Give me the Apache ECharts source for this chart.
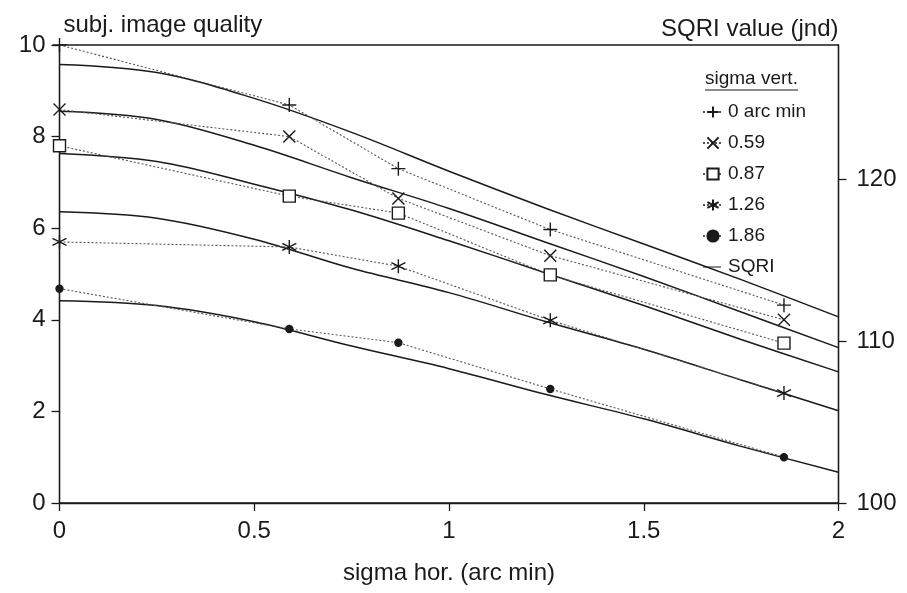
<!DOCTYPE html>
<html>
<head>
<meta charset="utf-8">
<script src="https://cdn.jsdelivr.net/npm/echarts@6/dist/echarts.min.js"></script>
<style>
  html, body { margin: 0; padding: 0; background: #fff; }
  #chart { width: 907px; height: 593px; }
</style>
</head>
<body>
<div id="chart"></div>
<script>
// measured subjective quality (left axis), one array per sigma vert.
const sigmaHor = [0, 0.59, 0.87, 1.26, 1.86];
const quality0 = [10.0, 8.69, 7.30, 5.97, 4.32];
const quality059 = [8.59, 8.00, 6.65, 5.40, 4.00];
const quality087 = [7.80, 6.70, 6.33, 4.98, 3.49];
const quality126 = [5.70, 5.59, 5.17, 3.99, 2.40];
const quality186 = [4.68, 3.80, 3.50, 2.49, 1.00];

// SQRI model curves (right axis, jnd)
const sqriX = [0, 0.25, 0.5, 0.75, 1, 1.25, 1.5, 1.75, 2];
const sqri0 = [127.1, 126.6, 125.0, 122.9, 120.5, 118.2, 116.0, 113.8, 111.5];
const sqri059 = [124.2, 123.7, 122.1, 120.1, 118.2, 116.1, 114.0, 111.8, 109.6];
const sqri087 = [121.6, 121.1, 119.7, 118.1, 116.2, 114.2, 112.2, 110.1, 108.1];
const sqri126 = [118.0, 117.6, 116.3, 114.5, 113.0, 111.2, 109.5, 107.6, 105.7];
const sqri186 = [112.5, 112.2, 111.2, 109.7, 108.3, 106.7, 105.2, 103.5, 101.9];

const legendNames = ['0 arc min', '0.59', '0.87', '1.26', '1.86', 'SQRI'];

const ink = '#1a1a1a';
const font = "'Liberation Sans', Arial, sans-serif";

const symPlus = 'path://M10 0 L10 20 M0 10 L20 10';
const symCross = 'path://M0 0 L20 20 M0 20 L20 0';
const symStar = 'path://M10 0 L10 20 M1.34 5 L18.66 15 M1.34 15 L18.66 5';
// thin bar in the middle of a 20x14 box, for the SQRI legend entry
const legendDash = 'path://M0 0 L0.01 0 L0.01 0.01 Z M0 6.4 L18 6.4 L18 7.6 L0 7.6 Z M20 14 L19.99 14 L19.99 13.99 Z';

function pairs(xs, ys) {
  return xs.map((x, i) => [x, ys[i]]);
}

function measured(name, values, symbol, size, fill) {
  return {
    name: name,
    type: 'line',
    data: pairs(sigmaHor, values),
    symbol: symbol,
    symbolSize: size,
    z: 3,
    lineStyle: { color: '#555', width: 1.1, type: [2, 2] },
    itemStyle: { color: fill, borderColor: ink, borderWidth: 1.4 }
  };
}

function sqriCurve(values) {
  return {
    name: 'SQRI',
    type: 'line',
    yAxisIndex: 1,
    data: pairs(sqriX, values),
    smooth: 0.35,
    symbol: 'none',
    z: 2,
    lineStyle: { color: ink, width: 1.5 },
    itemStyle: { color: ink }
  };
}

const chart = echarts.init(document.getElementById('chart'));

chart.setOption({
  animation: false,
  backgroundColor: '#fff',
  textStyle: { fontFamily: font },
  grid: {
    left: 59.5, right: 68.5, top: 45, bottom: 90,
    show: true, borderColor: ink, borderWidth: 1.3
  },
  legend: {
    data: legendNames.map(n => (n === 'SQRI' ? { name: n, icon: legendDash } : n)),
    orient: 'vertical',
    left: 697,
    top: 97,
    itemWidth: 20,
    itemHeight: 14,
    itemGap: 11,
    selectedMode: false,
    textStyle: { fontFamily: font, fontSize: 19, color: ink, lineHeight: 20 }
  },
  graphic: [
    {
      type: 'text', left: 705, top: 69,
      style: { text: 'sigma vert.', font: "19px 'Liberation Sans', Arial, sans-serif", fill: ink }
    },
    {
      type: 'line', shape: { x1: 705, y1: 90, x2: 798, y2: 90 },
      style: { stroke: ink, lineWidth: 1.2 }
    }
  ],
  xAxis: {
    type: 'value',
    min: 0, max: 2, interval: 0.5,
    name: 'sigma hor. (arc min)',
    nameLocation: 'middle',
    nameGap: 58,
    nameTextStyle: { fontSize: 24, color: ink, fontFamily: font },
    axisLine: { lineStyle: { color: ink, width: 1.3 } },
    axisTick: { length: 8, lineStyle: { color: ink, width: 1.3 } },
    axisLabel: { fontSize: 24, color: ink, margin: 16, fontFamily: font },
    splitLine: { show: false }
  },
  yAxis: [
    {
      type: 'value',
      min: 0, max: 10, interval: 2,
      name: 'subj. image quality',
      nameLocation: 'end',
      nameGap: 8,
      nameTextStyle: { fontSize: 24, color: ink, align: 'left', fontFamily: font, padding: [0, 0, 0, 4] },
      axisLine: { show: true, lineStyle: { color: ink, width: 1.3 } },
      axisTick: { show: true, length: 8, lineStyle: { color: ink, width: 1.3 } },
      axisLabel: { fontSize: 24, color: ink, margin: 14, fontFamily: font },
      splitLine: { show: false }
    },
    {
      type: 'value',
      position: 'right',
      min: 100, max: 128.3, interval: 10,
      name: 'SQRI value (jnd)',
      nameLocation: 'end',
      nameGap: 4,
      nameTextStyle: { fontSize: 24, color: ink, align: 'right', fontFamily: font },
      axisLine: { show: true, lineStyle: { color: ink, width: 1.3 } },
      axisTick: { show: true, length: 8, lineStyle: { color: ink, width: 1.3 } },
      axisLabel: { fontSize: 24, color: ink, margin: 18, showMaxLabel: false, fontFamily: font },
      splitLine: { show: false }
    }
  ],
  series: [
    measured('0 arc min', quality0, symPlus, 14, 'transparent'),
    measured('0.59', quality059, symCross, 12, 'transparent'),
    measured('0.87', quality087, 'rect', 12, '#fff'),
    measured('1.26', quality126, symStar, 14, 'transparent'),
    measured('1.86', quality186, 'circle', 7, ink),
    sqriCurve(sqri0),
    sqriCurve(sqri059),
    sqriCurve(sqri087),
    sqriCurve(sqri126),
    sqriCurve(sqri186)
  ]
});
</script>
</body>
</html>
